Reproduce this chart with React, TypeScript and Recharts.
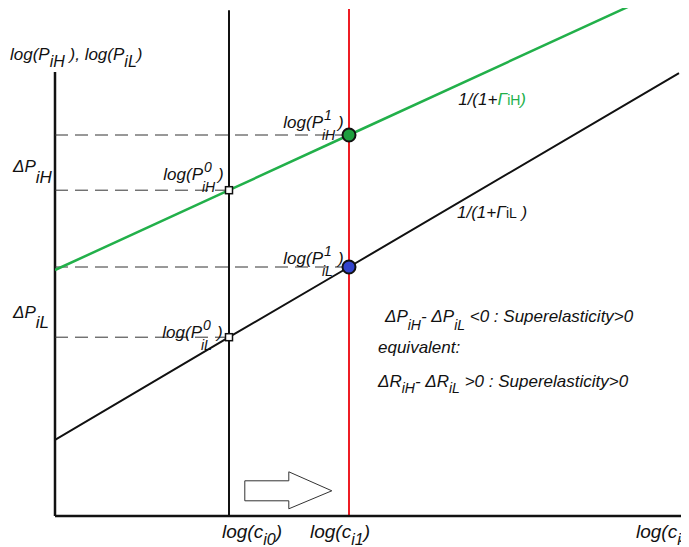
import React from 'react';
import { ComposedChart, Line, XAxis, YAxis, ReferenceLine, ReferenceDot } from 'recharts';

// log(c_i) axis marks
const cTicks = [2.9, 4.9, 10.5];
const cTickSubs = ['i0', 'i1', 'i'];

// 1/(1+Gamma_iH) line (green) and 1/(1+Gamma_iL) line (black)
const greenX = [0, 2.9, 4.9, 9.58];
const greenY = [4.1, 5.43, 6.35, 8.5];
const blackX = [0, 2.9, 4.9, 10.4];
const blackY = [1.27, 2.98, 4.15, 7.38];

// vertical lines and axis extents
const ci0 = 2.9;
const ci1 = 4.9;
const topC0 = 8.43;
const topC1 = 8.45;
const yAxisTop = 7.4;
const xMax = 10.5;
const yMax = 8.5;

// price levels and how far right each dashed guide reaches
const dashLevels = [6.35, 5.43, 4.15, 2.98];
const dashEnds = [4.9, 2.9, 4.9, 2.9];

const greenData = greenX.map((x, i) => ({ x, y: greenY[i] }));
const blackData = blackX.map((x, i) => ({ x, y: blackY[i] }));

const FONT = '"Liberation Sans", Arial, sans-serif';
const GREEN = '#22b04a';
const base = { fontFamily: FONT, fontStyle: 'italic', fontSize: 17, fill: '#111' } as const;
const small = { ...base, fontSize: 14 } as const;
const note = { ...base, fontSize: 17 } as const;
const noteSub = { ...base, fontSize: 14 } as const;
const tickFont = { ...base, fontSize: 19 } as const;

// log(P^sup_sub) label, x = end of "P", y = baseline
const pLabel = (x: number, y: number, sup: string, sub: string) => (
  <g>
    <text x={x} y={y} textAnchor="end" {...base}>log(P</text>
    <text x={x + 1} y={y - 8} {...small}>{sup}</text>
    <text x={x - 1} y={y + 12} {...small}>{sub}</text>
    <text x={x + 15} y={y} {...base}>)</text>
  </g>
);

const tickShift = [-7, -39, -49];

const CTick = (props: any) => {
  const { x, y, payload } = props;
  const i = cTicks.indexOf(payload.value);
  return (
    <text x={x + tickShift[i]} y={y + 14} {...tickFont}>
      log(c<tspan dy={7} {...small} fontSize={16}>{cTickSubs[i]}</tspan>
      <tspan dy={-7}>)</tspan>
    </text>
  );
};

const square = (p: any) => (
  <rect x={p.cx - 3.5} y={p.cy - 3.5} width={7} height={7} fill="#fff" stroke="#111" strokeWidth={1.5} />
);

const App = () => {
  return (
    <div style={{ marginLeft: -8, marginTop: -8, width: 689, height: 547, background: '#fff' }}>
      <ComposedChart width={689} height={547} margin={{ top: 6, right: 4, bottom: 0, left: 55 }}>
        <XAxis
          type="number"
          dataKey="x"
          domain={[0, xMax]}
          ticks={cTicks}
          interval={0}
          height={31}
          tickLine={false}
          axisLine={{ stroke: '#111', strokeWidth: 2.5 }}
          tick={<CTick />}
          allowDataOverflow
        />
        <YAxis type="number" domain={[0, yMax]} hide allowDataOverflow />

        {/* y axis */}
        <ReferenceLine segment={[{ x: 0, y: 0 }, { x: 0, y: yAxisTop }]} stroke="#111" strokeWidth={2.5} ifOverflow="visible" />

        {/* dashed price levels */}
        {dashLevels.map((lv, i) => (
          <ReferenceLine
            key={'d' + i}
            segment={[{ x: 0, y: lv }, { x: dashEnds[i], y: lv }]}
            stroke="#333"
            strokeWidth={1}
            strokeDasharray="13 7"
          />
        ))}

        <ReferenceLine segment={[{ x: ci0, y: 0 }, { x: ci0, y: topC0 }]} stroke="#111" strokeWidth={2} />
        <ReferenceLine segment={[{ x: ci1, y: 0 }, { x: ci1, y: topC1 }]} stroke="#ee1c24" strokeWidth={2} />

        <Line data={greenData} dataKey="y" type="linear" stroke={GREEN} strokeWidth={2.5} dot={false} isAnimationActive={false} />
        <Line data={blackData} dataKey="y" type="linear" stroke="#111" strokeWidth={2} dot={false} isAnimationActive={false} />

        {/* markers */}
        <ReferenceDot x={greenX[2]} y={greenY[2]} r={6.5} fill="#1e9e3e" stroke="#111" strokeWidth={2} />
        <ReferenceDot x={blackX[2]} y={blackY[2]} r={6.5} fill="#3344cc" stroke="#111" strokeWidth={2} />
        <ReferenceDot x={greenX[1]} y={greenY[1]} r={4} shape={square} />
        <ReferenceDot x={blackX[1]} y={blackY[1]} r={4} shape={square} />

        {/* point labels */}
        <ReferenceDot x={greenX[2]} y={greenY[2]} r={0} ifOverflow="visible" shape={(p: any) => pLabel(p.cx - 26, p.cy - 7, '1', 'iH')} />
        <ReferenceDot x={greenX[1]} y={greenY[1]} r={0} ifOverflow="visible" shape={(p: any) => pLabel(p.cx - 26, p.cy - 10, '0', 'iH')} />
        <ReferenceDot x={blackX[2]} y={blackY[2]} r={0} ifOverflow="visible" shape={(p: any) => pLabel(p.cx - 26, p.cy - 3, '1', 'iL')} />
        <ReferenceDot x={blackX[1]} y={blackY[1]} r={0} ifOverflow="visible" shape={(p: any) => pLabel(p.cx - 27, p.cy + 1, '0', 'iL')} />

        {/* y axis title */}
        <ReferenceDot
          x={0}
          y={yAxisTop}
          r={0}
          ifOverflow="visible"
          shape={(p: any) => (
            <text x={p.cx - 45} y={p.cy - 12} {...base}>
              log(P<tspan dy={7} {...small} fontSize={16}>iH</tspan>
              <tspan dy={-7}>{'   ), log(P'}</tspan>
              <tspan dy={7} {...small} fontSize={16}>iL</tspan>
              <tspan dy={-7}>)</tspan>
            </text>
          )}
        />

        {/* delta labels on the y axis */}
        <ReferenceDot
          x={0}
          y={5.73}
          r={0}
          ifOverflow="visible"
          shape={(p: any) => (
            <text x={p.cx - 42} y={p.cy} {...base}>
              ΔP<tspan dy={11} {...base}>iH</tspan>
            </text>
          )}
        />
        <ReferenceDot
          x={0}
          y={3.3}
          r={0}
          ifOverflow="visible"
          shape={(p: any) => (
            <text x={p.cx - 42} y={p.cy} {...base}>
              ΔP<tspan dy={10} {...base}>iL</tspan>
            </text>
          )}
        />

        {/* line labels */}
        <ReferenceDot
          x={6.72}
          y={7.18}
          r={0}
          ifOverflow="visible"
          shape={(p: any) => (
            <text x={p.cx} y={p.cy + 20} {...base}>
              1/(1+<tspan fill={GREEN}>Γ</tspan>
              <tspan fill={GREEN} fontSize={14} fontStyle="normal">iH</tspan>
              <tspan fill={GREEN}>)</tspan>
            </text>
          )}
        />
        <ReferenceDot
          x={6.7}
          y={5.2}
          r={0}
          ifOverflow="visible"
          shape={(p: any) => (
            <text x={p.cx} y={p.cy + 14} {...base}>
              1/(1+Γ<tspan fontSize={14} fontStyle="normal">iL</tspan>
              <tspan>{' )'}</tspan>
            </text>
          )}
        />

        {/* superelasticity notes */}
        <ReferenceDot
          x={5.5}
          y={3.23}
          r={0}
          ifOverflow="visible"
          shape={(p: any) => (
            <g>
              <text x={p.cx} y={p.cy} {...note}>
                ΔP<tspan dy={8} {...noteSub}>iH</tspan>
                <tspan dy={-8}>{'-  ΔP'}</tspan>
                <tspan dy={8} {...noteSub}>iL</tspan>
                <tspan dy={-8}>{' <0 : Superelasticity>0'}</tspan>
              </text>
              <text x={p.cx - 7} y={p.cy + 31} {...note}>equivalent:</text>
              <text x={p.cx - 7} y={p.cy + 65} {...note}>
                ΔR<tspan dy={6} {...noteSub}>iH</tspan>
                <tspan dy={-6}>{'- ΔR'}</tspan>
                <tspan dy={6} {...noteSub}>iL</tspan>
                <tspan dy={-6}>{' >0 : Superelasticity>0'}</tspan>
              </text>
            </g>
          )}
        />

        {/* shift arrow */}
        <ReferenceDot
          x={3.88}
          y={0.42}
          r={0}
          ifOverflow="visible"
          shape={(p: any) => (
            <path
              d={`M${p.cx - 43},${p.cy - 10} L${p.cx + 1},${p.cy - 10} L${p.cx + 1},${p.cy - 19} L${p.cx + 44},${p.cy} L${p.cx + 1},${p.cy + 18} L${p.cx + 1},${p.cy + 10} L${p.cx - 43},${p.cy + 10} Z`}
              fill="#fff"
              stroke="#333"
              strokeWidth={1}
            />
          )}
        />
      </ComposedChart>
    </div>
  );
};

export default App;
